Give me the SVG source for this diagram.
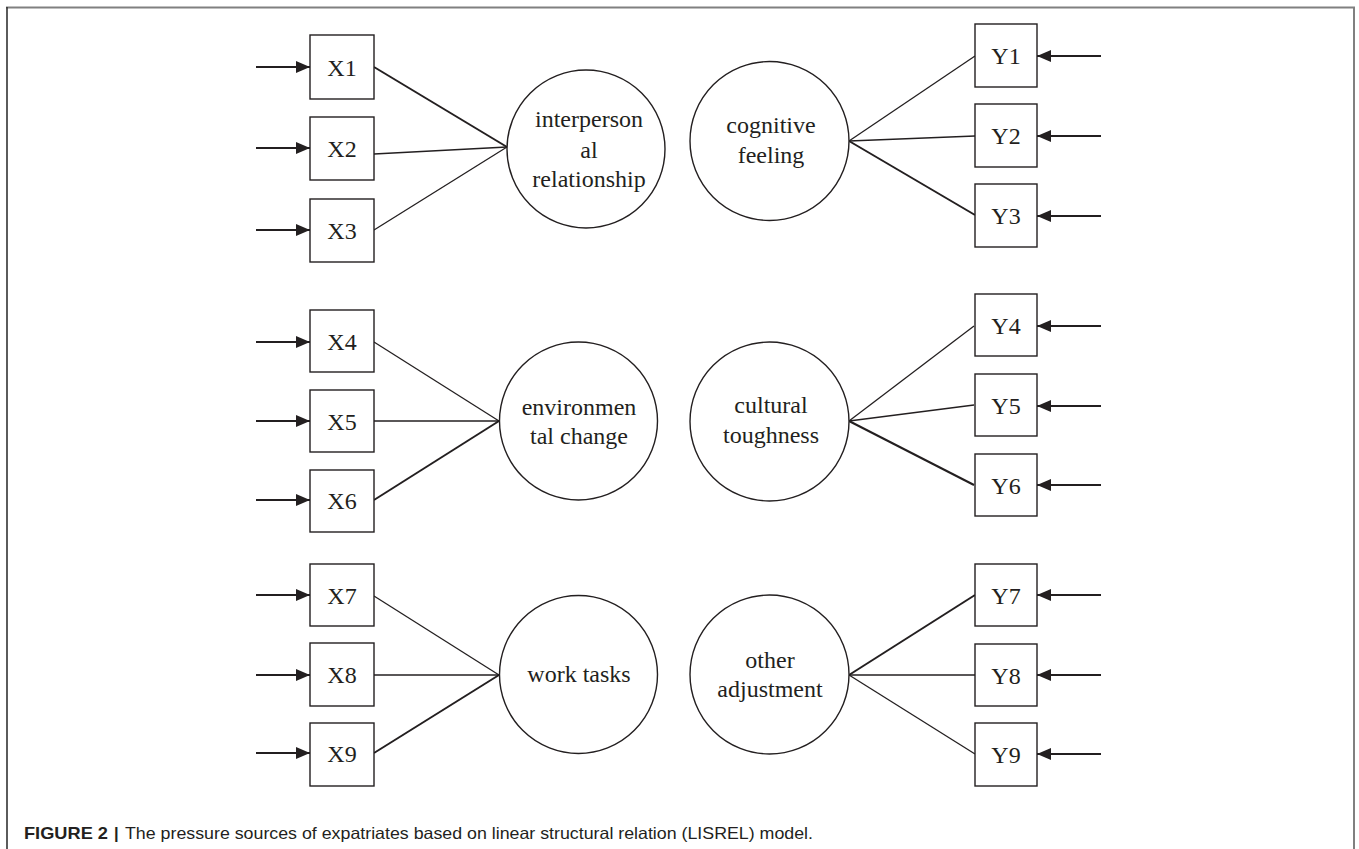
<svg xmlns="http://www.w3.org/2000/svg" width="1359" height="849" viewBox="0 0 1359 849">
<defs>
<style>
.box{fill:#fff;stroke:#231f20;stroke-width:1.4}
.lat{fill:#fff;stroke:#231f20;stroke-width:1.4}
.lbl{font-family:"Liberation Serif","Times New Roman",serif;font-size:24px;fill:#231f20;text-anchor:middle}
.ld{stroke:#231f20;stroke-width:1.3;fill:none}
.ldt{stroke:#231f20;stroke-width:2;fill:none}
.err{stroke:#231f20;stroke-width:2;fill:none}
.cap{font-family:"Liberation Sans",Arial,sans-serif;font-size:16.5px;fill:#231f20}
</style>
<marker id="ah" markerWidth="14" markerHeight="12" refX="14" refY="6" orient="auto" markerUnits="userSpaceOnUse">
<path d="M0,0 L14,6 L0,12 Z" fill="#231f20"/>
</marker>
</defs>
<rect x="0" y="0" width="1359" height="849" fill="#fff"/>
<g id="frame">
<line x1="6" y1="7.5" x2="1355" y2="7.5" stroke="#808080" stroke-width="2"/>
<line x1="7" y1="7" x2="7" y2="849" stroke="#333" stroke-width="1.6"/>
<line x1="1354" y1="7" x2="1354" y2="849" stroke="#808080" stroke-width="2"/>
</g>
<g id="connectors">
<!-- error arrows left -->
<line class="err" x1="256" y1="67" x2="310" y2="67" marker-end="url(#ah)"/>
<line class="err" x1="256" y1="148" x2="310" y2="148" marker-end="url(#ah)"/>
<line class="err" x1="256" y1="230" x2="310" y2="230" marker-end="url(#ah)"/>
<line class="err" x1="256" y1="342" x2="310" y2="342" marker-end="url(#ah)"/>
<line class="err" x1="256" y1="421" x2="310" y2="421" marker-end="url(#ah)"/>
<line class="err" x1="256" y1="500" x2="310" y2="500" marker-end="url(#ah)"/>
<line class="err" x1="256" y1="595" x2="310" y2="595" marker-end="url(#ah)"/>
<line class="err" x1="256" y1="675" x2="310" y2="675" marker-end="url(#ah)"/>
<line class="err" x1="256" y1="753" x2="310" y2="753" marker-end="url(#ah)"/>
<!-- error arrows right -->
<line class="err" x1="1101" y1="56" x2="1037" y2="56" marker-end="url(#ah)"/>
<line class="err" x1="1101" y1="136" x2="1037" y2="136" marker-end="url(#ah)"/>
<line class="err" x1="1101" y1="216" x2="1037" y2="216" marker-end="url(#ah)"/>
<line class="err" x1="1101" y1="326" x2="1037" y2="326" marker-end="url(#ah)"/>
<line class="err" x1="1101" y1="406" x2="1037" y2="406" marker-end="url(#ah)"/>
<line class="err" x1="1101" y1="485" x2="1037" y2="485" marker-end="url(#ah)"/>
<line class="err" x1="1101" y1="595" x2="1037" y2="595" marker-end="url(#ah)"/>
<line class="err" x1="1101" y1="675" x2="1037" y2="675" marker-end="url(#ah)"/>
<line class="err" x1="1101" y1="754" x2="1037" y2="754" marker-end="url(#ah)"/>
<!-- loadings left -->
<line class="ldt" x1="374" y1="67" x2="507" y2="147"/>
<line class="ld" x1="374" y1="154" x2="507" y2="147"/>
<line class="ld" x1="374" y1="230" x2="507" y2="147"/>
<line class="ld" x1="374" y1="342" x2="499" y2="421"/>
<line class="ld" x1="374" y1="421" x2="499" y2="421"/>
<line class="ldt" x1="374" y1="500" x2="499" y2="421"/>
<line class="ld" x1="374" y1="596" x2="499" y2="675"/>
<line class="ld" x1="374" y1="675" x2="499" y2="675"/>
<line class="ldt" x1="374" y1="753" x2="499" y2="675"/>
<!-- loadings right -->
<line class="ld" x1="849" y1="141" x2="975" y2="56"/>
<line class="ld" x1="849" y1="141" x2="975" y2="136"/>
<line class="ldt" x1="849" y1="141" x2="975" y2="215"/>
<line class="ld" x1="849" y1="421" x2="974" y2="326"/>
<line class="ld" x1="849" y1="421" x2="974" y2="405"/>
<line class="ldt" x1="849" y1="421" x2="974" y2="485"/>
<line class="ldt" x1="849" y1="675" x2="975" y2="595"/>
<line class="ld" x1="849" y1="675" x2="975" y2="675"/>
<line class="ld" x1="849" y1="675" x2="975" y2="754"/>
</g>
<g id="X1"><rect class="box" x="310" y="35" width="64" height="64"/><text class="lbl" x="342" y="76">X1</text></g>
<g id="X2"><rect class="box" x="310" y="117" width="64" height="63"/><text class="lbl" x="342" y="157">X2</text></g>
<g id="X3"><rect class="box" x="310" y="199" width="64" height="63"/><text class="lbl" x="342" y="239">X3</text></g>
<g id="X4"><rect class="box" x="310" y="310" width="64" height="62"/><text class="lbl" x="342" y="350">X4</text></g>
<g id="X5"><rect class="box" x="310" y="390" width="64" height="62"/><text class="lbl" x="342" y="430">X5</text></g>
<g id="X6"><rect class="box" x="310" y="470" width="64" height="62"/><text class="lbl" x="342" y="509">X6</text></g>
<g id="X7"><rect class="box" x="310" y="564" width="64" height="62"/><text class="lbl" x="342" y="604">X7</text></g>
<g id="X8"><rect class="box" x="310" y="643" width="64" height="63"/><text class="lbl" x="342" y="683">X8</text></g>
<g id="X9"><rect class="box" x="310" y="723" width="64" height="63"/><text class="lbl" x="342" y="762">X9</text></g>
<g id="Y1"><rect class="box" x="975" y="24" width="62" height="63"/><text class="lbl" x="1006" y="64">Y1</text></g>
<g id="Y2"><rect class="box" x="975" y="104" width="62" height="63"/><text class="lbl" x="1006" y="144">Y2</text></g>
<g id="Y3"><rect class="box" x="975" y="184" width="62" height="63"/><text class="lbl" x="1006" y="224">Y3</text></g>
<g id="Y4"><rect class="box" x="975" y="294" width="62" height="62"/><text class="lbl" x="1006" y="334">Y4</text></g>
<g id="Y5"><rect class="box" x="975" y="374" width="62" height="62"/><text class="lbl" x="1006" y="414">Y5</text></g>
<g id="Y6"><rect class="box" x="975" y="454" width="62" height="62"/><text class="lbl" x="1006" y="494">Y6</text></g>
<g id="Y7"><rect class="box" x="975" y="564" width="62" height="62"/><text class="lbl" x="1006" y="604">Y7</text></g>
<g id="Y8"><rect class="box" x="975" y="644" width="62" height="62"/><text class="lbl" x="1006" y="684">Y8</text></g>
<g id="Y9"><rect class="box" x="975" y="723" width="62" height="63"/><text class="lbl" x="1006" y="763">Y9</text></g>
<g id="interpersonal"><circle class="lat" cx="586" cy="149" r="79"/><text class="lbl" x="589" y="127">interperson</text><text class="lbl" x="589" y="158">al</text><text class="lbl" x="589" y="187">relationship</text></g>
<g id="environmental"><circle class="lat" cx="578.5" cy="421" r="79"/><text class="lbl" x="579" y="415">environmen</text><text class="lbl" x="579" y="444">tal change</text></g>
<g id="work"><circle class="lat" cx="578.5" cy="674.5" r="79"/><text class="lbl" x="579" y="682">work tasks</text></g>
<g id="cognitive"><circle class="lat" cx="769.5" cy="141" r="79.5"/><text class="lbl" x="771" y="133">cognitive</text><text class="lbl" x="771" y="163">feeling</text></g>
<g id="cultural"><circle class="lat" cx="769.5" cy="421.5" r="79.5"/><text class="lbl" x="771" y="413">cultural</text><text class="lbl" x="771" y="443">toughness</text></g>
<g id="other"><circle class="lat" cx="769.5" cy="674.5" r="79.5"/><text class="lbl" x="770" y="668">other</text><text class="lbl" x="770" y="697">adjustment</text></g>
<g id="caption">
<text class="cap" x="24" y="839" font-weight="bold" textLength="84" lengthAdjust="spacingAndGlyphs">FIGURE 2</text>
<text class="cap" x="114" y="839" font-weight="bold">|</text>
<text class="cap" x="125" y="839" textLength="688" lengthAdjust="spacingAndGlyphs">The pressure sources of expatriates based on linear structural relation (LISREL) model.</text>
</g>
</svg>
